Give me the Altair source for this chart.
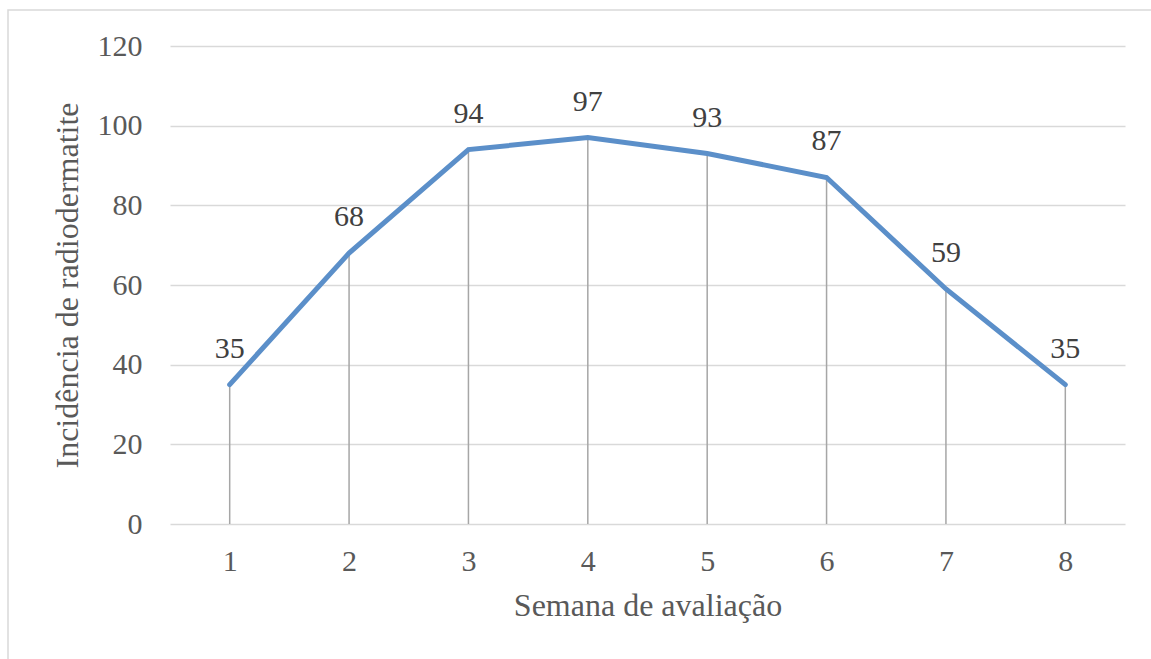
import altair as alt
import pandas as pd

semanas = [1, 2, 3, 4, 5, 6, 7, 8]
incidencia = [35, 68, 94, 97, 93, 87, 59, 35]

df = pd.DataFrame({"semana": semanas, "valor": incidencia})

FONT = "Liberation Serif"
TXT = "#595959"

x = alt.X("semana:O", scale=alt.Scale(type="point", padding=0.5),
          axis=alt.Axis(title="Semana de avaliação", labelAngle=0, ticks=False, domain=False,
                        grid=False, labelPadding=22, titlePadding=14,
                        labelFont=FONT, titleFont=FONT))
y = alt.Y("valor:Q", scale=alt.Scale(domain=[0, 120], nice=False),
          axis=alt.Axis(title="Incidência de radiodermatite", values=[0, 20, 40, 60, 80, 100, 120],
                        ticks=False, domain=False, grid=True, labelPadding=28, titlePadding=13,
                        labelFont=FONT, titleFont=FONT))

base = alt.Chart(df)

drops = base.mark_rule(color="#a6a6a6", strokeWidth=1.5).encode(
    x=x, y=alt.Y("valor:Q"), y2=alt.datum(0))

line = base.mark_line(color="#5b8fc9", strokeWidth=5, strokeCap="round").encode(x=x, y=y)

labels = base.mark_text(font=FONT, fontSize=30, color="#404040", baseline="alphabetic", dy=-27).encode(
    x=x, y="valor:Q", text="valor:Q")

frame = alt.Chart(pd.DataFrame({"a": [0]})).mark_rect(
    fill=None, stroke="#d9d9d9", strokeWidth=1.5).encode(
    x=alt.value(-162), x2=alt.value(1200), y=alt.value(-36), y2=alt.value(800))

chart = alt.layer(frame, drops, line, labels).properties(
    width=955, height=478,
    autosize=alt.AutoSizeParams(type="none"),
    padding={"left": 170, "top": 46, "right": 26, "bottom": 135},
    background="white",
).configure(font=FONT).configure_view(stroke=None).configure_axis(
    labelFont=FONT, titleFont=FONT, labelFontSize=30, titleFontSize=32,
    labelColor=TXT, titleColor=TXT, titleFontWeight="normal",
    gridColor="#d9d9d9", gridWidth=1.5,
)

chart.save("out.html", embed_options={"renderer": "svg", "actions": False})
